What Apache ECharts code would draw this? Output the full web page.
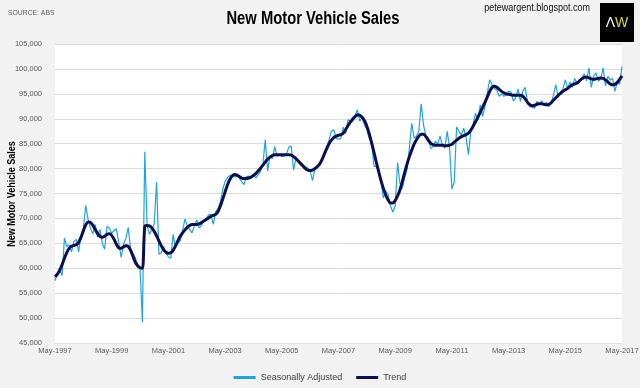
<!DOCTYPE html>
<html>
<head>
<meta charset="utf-8">
<script src="https://cdn.jsdelivr.net/npm/echarts@6/dist/echarts.min.js"></script>
<style>
html,body{margin:0;padding:0;background:#f2f2f2;}
#chart{width:640px;height:388px;}
</style>
</head>
<body>
<div id="chart"></div>
<script>
// ---- data (monthly, May-1997 .. May-2017) ----
const startYear = 1997;
const startMonth = 4; // May (0-based)
const monthNames = ['Jan','Feb','Mar','Apr','May','Jun','Jul','Aug','Sep','Oct','Nov','Dec'];
const yTicks = [45000,50000,55000,60000,65000,70000,75000,80000,85000,90000,95000,100000,105000];
const xTickLabels = ['May-1997','May-1999','May-2001','May-2003','May-2005','May-2007','May-2009','May-2011','May-2013','May-2015','May-2017'];

const seasonallyAdjusted = [
57500,58900,59900,58500,66100,64300,64700,63300,65400,65800,63300,66500,
68000,72600,69800,68000,66900,68800,66200,67800,65100,63800,68400,68100,
67000,67600,67900,65100,62200,64800,66000,68200,63800,63000,62100,60500,
60000,49100,83400,68500,66800,67800,68900,77300,62800,63100,64400,63000,
62300,62000,66800,64100,65000,65500,67500,69900,68500,67800,67100,68500,
69700,68100,68600,69500,70000,70700,70800,68800,71300,72000,73300,75800,
77400,78200,78600,78700,78300,78500,78100,77400,76800,78400,78500,78000,
78900,78100,78800,79500,80800,85800,79500,82500,82000,84400,82500,82800,
82400,82500,83000,84300,84500,79700,82100,81300,80900,80600,80400,80100,
79500,77600,79800,80100,81000,81800,82600,84200,85800,87500,87800,86100,
85900,86000,88300,87000,89800,89500,90300,90700,91800,89500,90300,88800,
87800,86000,85500,80500,80400,79600,77500,74100,75500,74800,72500,71300,
72500,81200,77100,76000,78200,79800,84100,89100,86100,86500,87500,93000,
88700,86500,86100,84100,84400,85500,84900,86500,84500,84100,87500,84200,
75900,77300,88400,87400,86800,88100,86200,82800,87500,89000,91100,89800,
92800,90500,92500,95200,97800,96800,96000,95700,94500,95000,94500,94800,
95500,95400,93600,94200,96000,93500,95500,96300,93500,92500,92300,92100,
93500,92800,93600,92700,93300,92400,93200,94800,96800,94300,95400,96000,
97800,96200,97400,96300,98100,97000,97600,98200,99000,97600,100200,96300,
98600,99200,97500,98000,100200,96600,98500,97800,98100,95500,97400,96900,
100500
];

const trend = [
58300,58800,59600,60700,62000,63200,64000,64400,64600,64700,65200,66200,
67500,68700,69300,69200,68600,67800,67000,66400,66200,66400,66800,66900,
66600,65800,64800,64100,64000,64300,64500,64400,63600,62400,61200,60500,
60100,60000,68400,68600,68500,68100,67400,66500,65500,64500,63700,63200,
63000,63100,63600,64500,65500,66400,67100,67700,68200,68600,68800,68800,
68800,68900,69200,69500,69800,70100,70400,70600,70800,71400,72500,73900,
75300,76700,77800,78500,78800,78700,78400,78100,78000,78000,78100,78300,
78600,79000,79500,80100,80700,81300,81900,82300,82600,82800,82800,82800,
82800,82800,82800,82800,82700,82400,82000,81500,81000,80500,80000,79700,
79600,79700,80000,80400,80900,81800,82900,84000,85000,85700,86200,86500,
86700,86800,87100,87800,88600,89300,89900,90400,90800,90700,90300,89600,
88500,87000,85200,83300,81300,79400,77600,76000,74700,73700,73100,73100,
73600,74500,75700,77400,79200,80900,82400,83700,84900,85800,86500,86900,
86900,86400,85700,85100,84800,84700,84700,84700,84700,84600,84600,84700,
84900,85300,85700,86100,86400,86600,86800,87100,87700,88500,89400,90300,
91300,92300,93300,94400,95500,96300,96500,96300,95900,95500,95200,95000,
94900,94800,94700,94700,94700,94700,94500,94000,93300,92800,92600,92700,
92900,93000,93000,92900,92800,92900,93200,93700,94200,94700,95100,95500,
95800,96100,96500,96800,97000,97200,97600,98000,98300,98400,98200,98000,
97900,98000,98100,98200,98100,97800,97400,97000,96800,96900,97300,97900,
98600
];

// month categories
const categories = [];
for (let k = 0; k < seasonallyAdjusted.length; k++) {
  const m = (startMonth + k) % 12;
  const y = startYear + Math.floor((startMonth + k) / 12);
  categories.push(monthNames[m] + '-' + y);
}

const FONT = "'Liberation Sans Narrow','Arial Narrow','Liberation Sans',Arial,sans-serif";

const chart = echarts.init(document.getElementById('chart'), null, {renderer: 'canvas'});
chart.setOption({
  backgroundColor: '#f2f2f2',
  animation: false,
  legend: {
    top: 368, left: 'center',
    itemWidth: 22, itemHeight: 3, itemGap: 14,
    icon: 'rect',
    textStyle: {fontFamily: FONT, fontSize: 9, color: '#404040'},
    data: ['Seasonally Adjusted', 'Trend']
  },
  grid: {
    left: 55, right: 18, top: 44, bottom: 45,
    containLabel: false, outerBoundsMode: 'none',
    show: true, backgroundColor: '#ffffff', borderWidth: 0
  },
  xAxis: {
    type: 'category',
    data: categories,
    boundaryGap: false,
    axisLine: {show: true, lineStyle: {color: '#e0e0e0'}},
    axisTick: {show: false},
    axisLabel: {
      interval: 23,
      fontFamily: FONT, fontSize: 7.5, color: '#595959', margin: 4,
      formatter: function (v) { return xTickLabels.indexOf(v) >= 0 ? v : ''; }
    },
    splitLine: {show: false}
  },
  yAxis: {
    type: 'value',
    min: yTicks[0], max: yTicks[yTicks.length - 1], interval: 5000,
    axisLine: {show: false},
    axisTick: {show: false},
    axisLabel: {
      fontFamily: FONT, fontSize: 7.5, color: '#595959', margin: 13,
      formatter: function (v) { return v.toLocaleString('en-US'); }
    },
    splitLine: {lineStyle: {color: '#dcdcdc', width: 1}}
  },
  graphic: [
    {type: 'text', x: 313, y: 19, scaleX: 0.82,
     style: {text: 'New Motor Vehicle Sales', x: 0, y: 0, align: 'center', verticalAlign: 'middle',
       textAlign: 'center', textVerticalAlign: 'middle',
       fontFamily: FONT, fontWeight: 'bold', fontSize: 18, fill: '#000'}},
    {type: 'text', x: 12, y: 194, rotation: Math.PI / 2, scaleX: 0.9,
     style: {text: 'New Motor Vehicle Sales', x: 0, y: 0, align: 'center', verticalAlign: 'middle',
       textAlign: 'center', textVerticalAlign: 'middle',
       fontFamily: FONT, fontWeight: 'bold', fontSize: 10, fill: '#000'}},
    {type: 'text', x: 8, y: 13, scaleX: 0.85,
     style: {text: 'SOURCE: ABS', x: 0, y: 0, verticalAlign: 'middle', textVerticalAlign: 'middle',
       fontFamily: FONT, fontSize: 8, fill: '#595959'}},
    {type: 'text', x: 590, y: 8, scaleX: 0.82,
     style: {text: 'petewargent.blogspot.com', x: 0, y: 0, align: 'right', verticalAlign: 'middle',
       textAlign: 'right', textVerticalAlign: 'middle',
       fontFamily: FONT, fontSize: 11, fill: '#111'}},
    {type: 'rect', shape: {x: 600, y: 3, width: 34, height: 39},
     style: {fill: '#000'}},
    {type: 'text', x: 617, y: 23,
     style: {text: '{a|Λ}{b|W}', x: 0, y: 0, align: 'center', verticalAlign: 'middle',
       textAlign: 'center', textVerticalAlign: 'middle',
       fontFamily: FONT, fontSize: 14,
       rich: {a: {fill: '#ffffff', fontSize: 14, fontFamily: FONT}, b: {fill: '#d8d43a', fontSize: 14, fontFamily: FONT}}}}
  ],
  series: [
    {
      name: 'Seasonally Adjusted', type: 'line', data: seasonallyAdjusted,
      showSymbol: false, symbol: 'none',
      lineStyle: {color: '#20a4e0', width: 1.2},
      itemStyle: {color: '#20a4e0'}, z: 2
    },
    {
      name: 'Trend', type: 'line', data: trend,
      showSymbol: false, symbol: 'none', smooth: 0.3,
      lineStyle: {color: '#0b0f4f', width: 3},
      itemStyle: {color: '#0b0f4f'}, z: 3
    }
  ]
});
</script>
</body>
</html>
